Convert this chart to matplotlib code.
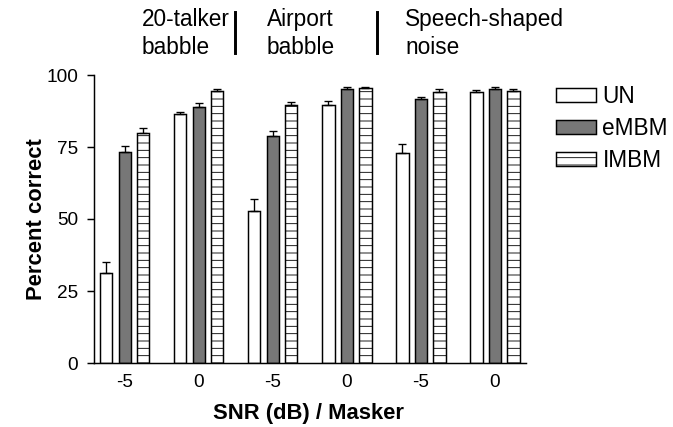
import numpy as np
import matplotlib
matplotlib.use("Agg")
import matplotlib.pyplot as plt
from matplotlib.lines import Line2D

plt.rcParams['font.family'] = ['Liberation Sans', 'DejaVu Sans']
plt.rcParams['hatch.linewidth'] = 0.7

snr_labels = ['-5', '0', '-5', '0', '-5', '0']
maskers = ['20-talker\nbabble', 'Airport\nbabble', 'Speech-shaped\nnoise']
series = ['UN', 'eMBM', 'IMBM']

un = [31.3, 86.3, 52.8, 89.5, 72.8, 94.1]
un_err = [3.7, 0.9, 4.1, 1.6, 3.4, 0.6]
embm = [73.3, 88.8, 78.8, 95.1, 91.5, 95.0]
embm_err = [2.0, 1.4, 1.6, 0.8, 1.0, 1.0]
imbm = [79.9, 94.4, 89.6, 95.5, 94.2, 94.4]
imbm_err = [1.7, 0.8, 1.1, 0.5, 0.8, 0.6]

dpi = 88
fig = plt.figure(figsize=(673 / dpi, 427 / dpi), dpi=dpi)
ax = fig.add_axes([94 / 673, 1 - 363 / 427, 432 / 673, 288 / 427])

x = np.arange(len(snr_labels))
w = 0.167
off = 0.25
styles = [dict(facecolor='white', hatch=None),
          dict(facecolor='#777777', hatch=None),
          dict(facecolor='white', hatch='--')]
data = [(un, un_err), (embm, embm_err), (imbm, imbm_err)]

for k, (vals, errs) in enumerate(data):
    ax.bar(x + (k - 1) * off, vals, w, color=styles[k]['facecolor'],
           hatch=styles[k]['hatch'], edgecolor='black', linewidth=1.2,
           label=series[k], zorder=2)
    ax.errorbar(x + (k - 1) * off, vals, yerr=[np.zeros(len(vals)), errs],
                fmt='none', ecolor='black', elinewidth=1.1, capsize=3.5,
                capthick=1.1, zorder=3)

ax.set_xlim(-0.415, 5.42)
ax.set_ylim(0, 100)
ax.set_yticks([0, 25, 50, 75, 100])
ax.set_xticks(x)
ax.set_xticklabels(snr_labels)
ax.tick_params(axis='x', length=0, pad=9, labelsize=15.5)
ax.tick_params(axis='y', length=6, width=1.2, pad=7, labelsize=15.5)
for s in ['top', 'right']:
    ax.spines[s].set_visible(False)
for s in ['left', 'bottom']:
    ax.spines[s].set_linewidth(1.2)

ax.set_ylabel('Percent correct', fontsize=18, fontweight='bold', va='center')
ax.yaxis.set_label_coords(-0.134, 0.5)
ax.set_xlabel('SNR (dB) / Masker', fontsize=18, fontweight='bold', va='center')
ax.xaxis.set_label_coords(0.497, -0.174)

# masker labels above the plot
label_x = [142, 267, 405]
for lx, txt in zip(label_x, maskers):
    fig.text(lx / 673, 1 - 8 / 427, txt, fontsize=18.5, va='top', ha='left',
             linespacing=1.3)
for sx in [235, 377]:
    fig.add_artist(Line2D([sx / 673, sx / 673], [1 - 12 / 427, 1 - 53 / 427],
                          color='black', linewidth=2.4))

fig.legend(loc='upper left', bbox_to_anchor=(547 / 673, 1 - 76 / 427),
           frameon=False, fontsize=18.5, handlelength=1.75, handleheight=0.6,
           handletextpad=0.3, labelspacing=0.4, borderaxespad=0)

fig.savefig('out.png', dpi=dpi)
